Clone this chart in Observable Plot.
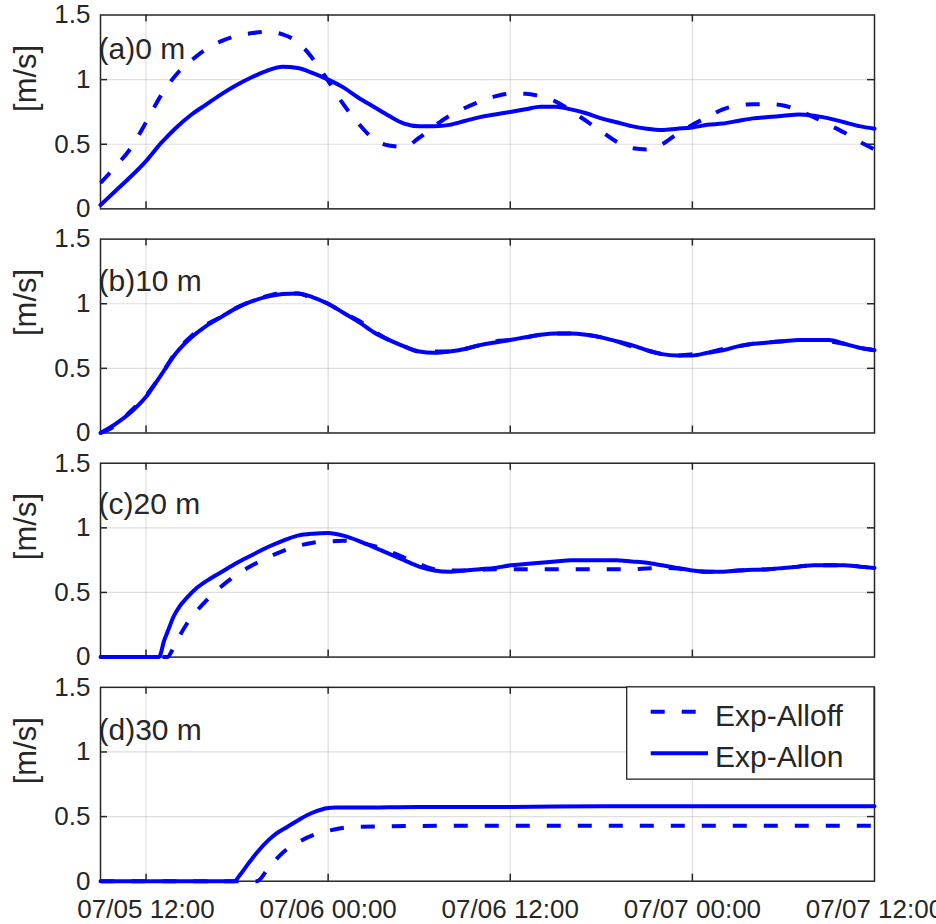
<!DOCTYPE html>
<html>
<head>
<meta charset="utf-8">
<script src="https://cdn.jsdelivr.net/npm/d3@7"></script>
<script src="https://cdn.jsdelivr.net/npm/@observablehq/plot@0.6"></script>
<style>
  body { margin: 0; background: #fff; overflow: hidden; }
  #chart { width: 936px; height: 924px; }
</style>
</head>
<body>
<div id="chart"></div>
<script>
// ---------- data ----------
const panels = ["a", "b", "c", "d"];
const panelLabels = ["(a)0 m", "(b)10 m", "(c)20 m", "(d)30 m"];
const seriesNames = ["Exp-Alloff", "Exp-Allon"];
const yLabel = "[m/s]";
const yTicks = [0, 0.5, 1, 1.5];
const xTickHours = [12, 24, 36, 48, 60];          // hours since 07/05 00:00
const xDomainHours = [9, 60];

// panels (a) and (b): hourly samples, 07/05 09:00 .. 07/07 12:00
const hoursAB = [9, 10, 11, 12, 13, 14, 15, 16, 17, 18, 19, 20, 21, 22, 23, 24, 25, 26, 27, 28,
  29, 30, 31, 32, 33, 34, 35, 36, 37, 38, 39, 40, 41, 42, 43, 44, 45, 46, 47, 48,
  49, 50, 51, 52, 53, 54, 55, 56, 57, 58, 59, 60];

const aOff = [0.20, 0.33, 0.47, 0.67, 0.88, 1.04, 1.15, 1.24, 1.30, 1.34, 1.36, 1.37, 1.35, 1.29, 1.16, 0.99, 0.81, 0.66, 0.54, 0.49,
  0.48, 0.55, 0.64, 0.72, 0.78, 0.83, 0.87, 0.89, 0.89, 0.87, 0.83, 0.76, 0.68, 0.60, 0.52, 0.47, 0.46, 0.50, 0.58, 0.65,
  0.71, 0.77, 0.80, 0.81, 0.81, 0.80, 0.76, 0.71, 0.65, 0.59, 0.52, 0.46];
const aOn = [0.03, 0.14, 0.25, 0.37, 0.51, 0.63, 0.73, 0.81, 0.89, 0.96, 1.02, 1.07, 1.10, 1.09, 1.05, 1.00, 0.94, 0.86, 0.79, 0.72,
  0.66, 0.64, 0.64, 0.65, 0.68, 0.71, 0.73, 0.75, 0.77, 0.79, 0.79, 0.77, 0.74, 0.70, 0.67, 0.64, 0.62, 0.61, 0.62, 0.63,
  0.65, 0.66, 0.68, 0.70, 0.71, 0.72, 0.73, 0.72, 0.70, 0.67, 0.64, 0.62];

const bOff = [0.00, 0.06, 0.17, 0.29, 0.45, 0.63, 0.75, 0.84, 0.90, 0.97, 1.02, 1.06, 1.08, 1.08, 1.04, 1.00, 0.93, 0.87, 0.79, 0.72,
  0.67, 0.63, 0.63, 0.63, 0.65, 0.68, 0.71, 0.72, 0.74, 0.76, 0.77, 0.77, 0.76, 0.74, 0.71, 0.67, 0.64, 0.61, 0.60, 0.61,
  0.62, 0.65, 0.67, 0.69, 0.70, 0.71, 0.72, 0.72, 0.71, 0.69, 0.66, 0.64];
const bOn = [0.00, 0.07, 0.16, 0.28, 0.45, 0.62, 0.74, 0.83, 0.90, 0.97, 1.02, 1.055, 1.075, 1.08, 1.05, 1.00, 0.93, 0.86, 0.78, 0.72,
  0.67, 0.63, 0.62, 0.63, 0.65, 0.68, 0.70, 0.72, 0.74, 0.76, 0.77, 0.77, 0.76, 0.74, 0.71, 0.68, 0.64, 0.61, 0.60, 0.60,
  0.62, 0.64, 0.67, 0.69, 0.70, 0.71, 0.72, 0.72, 0.72, 0.69, 0.66, 0.64];

// panel (c)
const cOffHours = [9, 13.4, 13.8, 14.2, 14.7, 15.3, 16, 17, 18, 19, 20, 21, 22, 23, 24, 25, 26, 27, 28, 29,
  30, 31, 32, 33, 34, 35, 36, 37, 38, 39, 40, 41, 42, 43, 44, 45, 46, 47, 48, 49,
  50, 51, 52, 53, 54, 55, 56, 57, 58, 59, 60];
const cOff = [0, 0, 0.07, 0.16, 0.26, 0.35, 0.44, 0.55, 0.64, 0.71, 0.77, 0.82, 0.86, 0.885, 0.895, 0.90, 0.89, 0.86, 0.82, 0.77,
  0.72, 0.68, 0.67, 0.67, 0.675, 0.68, 0.68, 0.68, 0.68, 0.68, 0.68, 0.68, 0.68, 0.68, 0.68, 0.685, 0.69, 0.685, 0.67, 0.66,
  0.66, 0.67, 0.675, 0.68, 0.69, 0.70, 0.71, 0.71, 0.71, 0.70, 0.69];
const cOnHours = [9, 12.85, 13.2, 13.5, 13.8, 14.2, 14.7, 15.3, 16, 17, 18, 19, 20, 21, 22, 23, 24, 25, 26, 27,
  28, 29, 30, 31, 32, 33, 34, 35, 36, 37, 38, 39, 40, 41, 42, 43, 44, 45, 46, 47,
  48, 49, 50, 51, 52, 53, 54, 55, 56, 57, 58, 59, 60];
const cOn = [0, 0, 0.13, 0.22, 0.31, 0.39, 0.46, 0.53, 0.59, 0.66, 0.73, 0.79, 0.85, 0.90, 0.94, 0.955, 0.96, 0.94, 0.90, 0.85,
  0.80, 0.75, 0.70, 0.67, 0.66, 0.67, 0.68, 0.69, 0.71, 0.72, 0.73, 0.74, 0.75, 0.75, 0.75, 0.75, 0.74, 0.73, 0.71, 0.69,
  0.67, 0.66, 0.66, 0.67, 0.675, 0.68, 0.69, 0.70, 0.71, 0.71, 0.71, 0.70, 0.69];

// panel (d)
const dOffHours = [9, 19.3, 20, 20.5, 21.1, 22, 23.1, 24.4, 25.7, 28, 36, 44, 52, 60];
const dOff = [0, 0, 0.09, 0.16, 0.23, 0.30, 0.36, 0.40, 0.42, 0.425, 0.43, 0.43, 0.43, 0.43];
const dOnHours = [9, 17.8, 18.2, 18.7, 19.3, 20, 20.6, 21.3, 22, 22.6, 23.2, 23.9, 24.5, 26, 30, 36, 42, 48, 54, 60];
const dOn = [0, 0, 0.05, 0.13, 0.22, 0.31, 0.37, 0.42, 0.47, 0.51, 0.54, 0.565, 0.57, 0.57, 0.575, 0.575, 0.58, 0.58, 0.58, 0.58];

// ---------- build table ----------
const toDate = h => new Date(Date.UTC(2019, 6, 5) + h * 3600e3);
const rows = [];
function addSeries(panel, series, hours, values) {
  hours.forEach((h, i) => rows.push({panel, series, t: toDate(h), v: values[i]}));
}
addSeries("a", seriesNames[0], hoursAB, aOff);
addSeries("a", seriesNames[1], hoursAB, aOn);
addSeries("b", seriesNames[0], hoursAB, bOff);
addSeries("b", seriesNames[1], hoursAB, bOn);
addSeries("c", seriesNames[0], cOffHours, cOff);
addSeries("c", seriesNames[1], cOnHours, cOn);
addSeries("d", seriesNames[0], dOffHours, dOff);
addSeries("d", seriesNames[1], dOnHours, dOn);

const xTicks = xTickHours.map(toDate);
const innerXTicks = xTicks.slice(0, -1);
const innerYTicks = yTicks.slice(1, -1);

// ---------- layout / style ----------
const W = 936, H = 924;
const mt = 14.5, mb = 43.3, ml = 100, mr = 62;
const pad = 0.135;
const step = (H - mt - mb) / (panels.length - pad);
const bw = step * (1 - pad);
const plotW = W - ml - mr;
const tickLen = 7;
const axisColor = "#262626";
const blue = "#0000ff";
const labelDy = [34, 42, 41, 43];

const marks = [
  Plot.gridX(innerXTicks, {stroke: axisColor, strokeOpacity: 0.15, strokeWidth: 1.2}),
  Plot.gridY(innerYTicks, {stroke: axisColor, strokeOpacity: 0.15, strokeWidth: 1.2}),
  Plot.frame({stroke: axisColor, strokeWidth: 1.5}),
  Plot.ruleX(innerXTicks, {insetTop: bw - tickLen, stroke: axisColor, strokeWidth: 1.5}),
  Plot.ruleX(innerXTicks, {insetBottom: bw - tickLen, stroke: axisColor, strokeWidth: 1.5}),
  Plot.ruleY(innerYTicks, {insetRight: plotW - tickLen, stroke: axisColor, strokeWidth: 1.5}),
  Plot.ruleY(innerYTicks, {insetLeft: plotW - tickLen, stroke: axisColor, strokeWidth: 1.5}),
  Plot.axisX(xTicks, {anchor: "bottom", tickSize: 0, tickPadding: 18, fontSize: 26,
    tickFormat: d3.utcFormat("%m/%d %H:%M"), label: null}),
  Plot.axisY(yTicks, {anchor: "left", tickSize: 0, tickPadding: 10, fontSize: 26,
    tickFormat: d => String(d), label: null}),
  Plot.text([yLabel], {text: d => d, frameAnchor: "left", rotate: -90, dx: -74, fontSize: 31}),
  ...panels.map((p, i) => Plot.text([{panel: p, label: panelLabels[i]}], {
    fy: "panel", text: "label", frameAnchor: "top-left", textAnchor: "start",
    lineAnchor: "middle", dx: -2, dy: labelDy[i], fontSize: 30
  })),
  Plot.line(rows.filter(d => d.series === seriesNames[0]), {
    x: "t", y: "v", fy: "panel", stroke: blue, strokeWidth: 4,
    strokeDasharray: "14,17", strokeLinecap: "butt", curve: "monotone-x"
  }),
  Plot.line(rows.filter(d => d.series === seriesNames[1]), {
    x: "t", y: "v", fy: "panel", stroke: blue, strokeWidth: 4, curve: "monotone-x"
  })
];

const chart = Plot.plot({
  width: W, height: H,
  marginTop: mt, marginBottom: mb, marginLeft: ml, marginRight: mr,
  style: {fontFamily: "'Liberation Sans', Arial, Helvetica, sans-serif", color: axisColor, background: "white", overflow: "visible"},
  x: {type: "utc", domain: xDomainHours.map(toDate)},
  y: {domain: [yTicks[0], yTicks[yTicks.length - 1]]},
  fy: {domain: panels, axis: null, paddingInner: pad, paddingOuter: 0, round: false},
  marks
});

// ---------- legend (inside panel d, top-right) ----------
const svg = d3.select(chart);
const right = W - mr;
const topD = mt + 3 * step;
const lgW = 247.3, lgH = 92.3;
const lg = svg.append("g").attr("class", "legend");
lg.append("rect").attr("x", right - lgW).attr("y", topD).attr("width", lgW).attr("height", lgH)
  .attr("fill", "white").attr("stroke", axisColor).attr("stroke-width", 1.3);
const entries = [
  {name: seriesNames[0], dash: "14,17", ly: 25, ty: 39.5},
  {name: seriesNames[1], dash: null, ly: 66.5, ty: 80.5}
];
entries.forEach(e => {
  const ln = lg.append("line").attr("x1", right - 223.3).attr("x2", right - 166)
    .attr("y1", topD + e.ly).attr("y2", topD + e.ly)
    .attr("stroke", blue).attr("stroke-width", 4).attr("stroke-linecap", "butt");
  if (e.dash) ln.attr("stroke-dasharray", e.dash);
  lg.append("text").attr("x", right - 159).attr("y", topD + e.ty)
    .attr("text-anchor", "start").attr("font-size", 30).attr("fill", axisColor).text(e.name);
});

document.getElementById("chart").appendChild(chart);
</script>
</body>
</html>
